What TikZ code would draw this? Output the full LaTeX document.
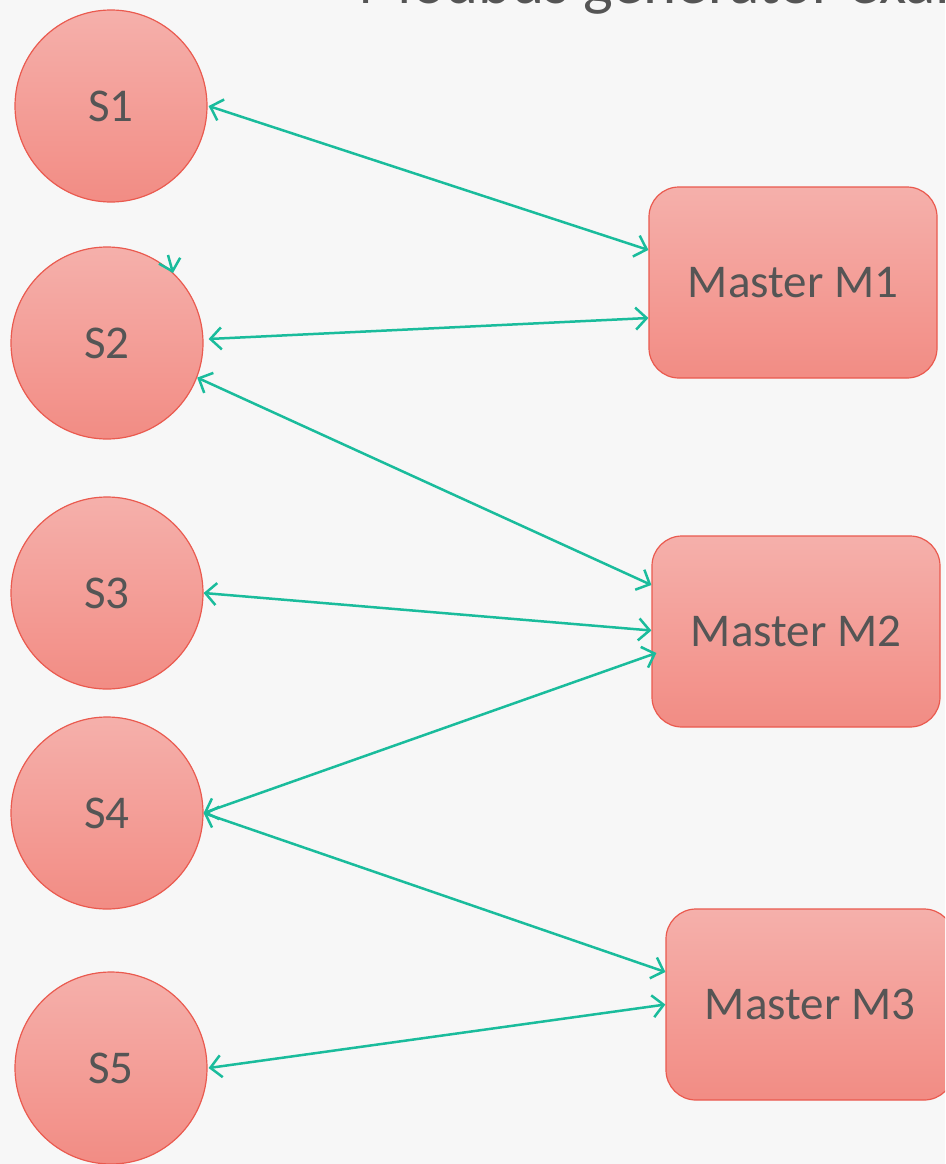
\documentclass[tikz,border=0pt]{standalone}
\usepackage{fontspec}
\setmainfont{Carlito}
\usetikzlibrary{arrows.meta,calc}
\definecolor{bgc}{HTML}{F7F7F7}
\definecolor{fillT}{HTML}{F5B0AB}
\definecolor{fillB}{HTML}{F28C84}
\definecolor{edgec}{HTML}{EA5A4F}
\definecolor{txtc}{HTML}{555555}
\definecolor{linkc}{HTML}{1ABC9C}
\tikzset{
  slave/.style={circle, draw=edgec, line width=1.2pt, top color=fillT, bottom color=fillB,
    minimum size=192pt, inner sep=0pt, text=txtc, font=\fontsize{47}{56}\selectfont},
  master/.style={rectangle, rounded corners=30pt, draw=edgec, line width=1.2pt, top color=fillT, bottom color=fillB,
    minimum width=288pt, minimum height=191pt, inner sep=0pt, text=txtc, font=\fontsize{47}{56}\selectfont},
  link/.style={draw=linkc, line width=2.5pt, {Straight Barb[length=11pt,width=22pt]}-{Straight Barb[length=11pt,width=22pt]}},
  onearrow/.style={draw=linkc, line width=2.5pt, -{Straight Barb[length=11pt,width=22pt]}},
}
\begin{document}
\begin{tikzpicture}[x=1pt,y=-1pt]
\fill[bgc] (0,0) rectangle (945,1164);
\useasboundingbox (0,0) rectangle (945,1164);
\begin{scope}
\clip (0,0) rectangle (945,1164);
\node[anchor=base west, text=txtc, font=\fontsize{63}{74}\selectfont, inner sep=0pt] (title) at (358,4) {Modbus generator example};

\node[slave] (s1) at (111,106) {S1};
\node[slave] (s2) at (107,343) {S2};
\node[slave] (s3) at (107,593) {S3};
\node[slave] (s4) at (107,813) {S4};
\node[slave] (s5) at (111,1068) {S5};

\node[master] (m1) at (793,282.5) {Master M1};
\node[master] (m2) at (796,631.5) {Master M2};
\node[master] (m3) at (810,1004.5) {Master M3};

\coordinate (p1) at (168,255);
\coordinate (p2) at (173,273);

\draw[link] ([xshift=1pt]s1.east) -- ([yshift=32.5pt]m1.west);
\draw[link] ([xshift=5pt,yshift=4pt]s2.east) -- ([yshift=-35.5pt]m1.west);
\draw[link] (s2.-21.5) -- ([yshift=46.5pt]m2.west);
\draw[link] (s3.east) -- ([yshift=1pt]m2.west);
\draw[link] (s4.east) -- ([xshift=5pt,yshift=-21.5pt]m2.west);
\draw[link] (s4.east) -- ([yshift=32.5pt]m3.west);
\draw[link] ([xshift=1pt]s5.east) -- (m3.west);
\draw[onearrow] (p1) -- (p2);
\end{scope}
\end{tikzpicture}
\end{document}
